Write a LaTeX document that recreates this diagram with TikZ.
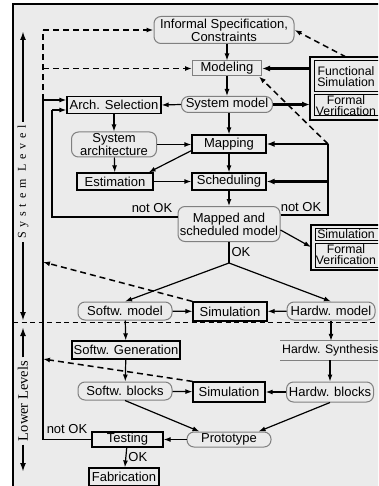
\documentclass[tikz,border=0pt]{standalone}
\usepackage{fontspec}
\setmainfont{Liberation Sans}
\newfontfamily\lvlfont[LetterSpace=40]{Liberation Serif}
\newfontfamily\lowfont{Liberation Serif}
\usetikzlibrary{arrows.meta}
\definecolor{bg}{rgb}{0.92,0.92,0.92}
\definecolor{edgegray}{rgb}{0.5,0.5,0.5}

\tikzset{
  box/.style={draw, line width=1.2pt, inner sep=0pt, minimum height=17pt},
  soft/.style={draw=edgegray, line width=1pt, rounded corners=7pt, inner sep=0pt, align=center},
  vbox/.style={draw, line width=1pt, anchor=west, inner xsep=1pt, inner ysep=0pt, text width=70pt},
  vtext/.style={font=\fontsize{12.3}{11}\selectfont, align=center, inner sep=0pt},
  arr/.style={line width=1.2pt, -{Latex[length=7pt,width=5pt]}},
  bold/.style={line width=2.2pt, -{Latex[length=8pt,width=6pt]}},
  back/.style={line width=1.5pt, dash pattern=on 6pt off 4pt, -{Latex[length=7pt,width=5pt]}},
  lvl/.style={line width=1.8pt, -{Latex[length=9pt,width=6pt]}}
}

\begin{document}
\begin{tikzpicture}[x=1pt, y=-1pt, font=\fontsize{13}{11.5}\selectfont]

\useasboundingbox (0,0) rectangle (378,486);
\clip (0,0) rectangle (378,486);
\fill[bg] (13,4) rectangle (395,495);
\draw[line width=2.5pt] (13,495) -- (13,4) -- (395,4);

% level marks on the left
\node[rotate=90, font=\lvlfont\fontsize{12}{12}\selectfont] (syslvl) at (23,182) {System Level};
\draw[lvl] (syslvl.east) -- (23,31);
\draw[lvl] (syslvl.west) -- (23,321);
\node[rotate=90, font=\lowfont\fontsize{14.5}{14.5}\selectfont] (lowlvl) at (23,401) {Lower Levels};
\draw[lvl] (lowlvl.east) -- (23,327);
\draw[lvl] (lowlvl.west) -- (23,472);
\draw[line width=1pt, dash pattern=on 5pt off 3.5pt] (13,322) -- (395,322);

% system level
\node[soft, minimum width=140pt, minimum height=27pt] (spec) at (224,30) {Informal Specification,\\Constraints};
\node[box, draw=edgegray, line width=1pt, minimum width=69pt, minimum height=15pt] (model) at (227,68.5) {Modeling};
\node[soft, minimum width=91pt, minimum height=16pt] (sysmod) at (227,104.5) {System model};
\node[box, minimum width=94pt] (arch) at (114,105) {Arch. Selection};
\node[soft, minimum width=85pt, minimum height=25pt] (sysarch) at (114,144.5) {System\\architecture};
\node[box, minimum width=74pt, minimum height=18pt] (mapping) at (229,144) {Mapping};
\node[box, minimum width=76pt] (estim) at (115,181.5) {Estimation};
\node[box, minimum width=74pt] (sched) at (229,181.5) {Scheduling};
\node[soft, minimum width=102pt, minimum height=35pt] (mapsched) at (229,224) {Mapped and\\scheduled model};

% verification boxes
\draw[line width=2pt] (310,57) rectangle (395,120);
\node[vbox, minimum height=31pt] (funsim) at (314,76.5) {};
\node[vtext] (funsimtxt) at (346,76.5) {Functional\\Simulation};
\node[vbox, minimum height=21pt] (formver) at (314,105.5) {};
\node[vtext] (formvertxt) at (346,105.5) {Formal\\Verification};
\draw[line width=2pt] (311,225) rectangle (395,270);
\node[vbox, minimum height=12pt] (simbox) at (315,234) {};
\node[vtext] (simboxtxt) at (346,234) {Simulation};
\node[vbox, minimum height=24pt] (formbox) at (315,255) {};
\node[vtext] (formboxtxt) at (346,255) {Formal\\Verification};

% lower levels
\node[soft, minimum width=94pt, minimum height=18pt] (swmod) at (125,311) {Softw. model};
\node[box, minimum width=74pt, minimum height=19pt] (simhi) at (230,311.5) {Simulation};
\node[soft, minimum width=88pt, minimum height=18pt] (hwmod) at (331,311) {Hardw. model};
\node[box, minimum width=108pt, minimum height=18pt] (swgen) at (126,350) {Softw. Generation};
\node[anchor=west, inner xsep=2pt, inner ysep=0pt, minimum height=19pt, font=\fontsize{12.3}{11}\selectfont] (hwsyn) at (280,350.5) {Hardw. Synthesis};
\draw[edgegray, line width=1pt] (hwsyn.north west) -- ++(120,0) (hwsyn.south west) -- ++(120,0);
\node[soft, minimum width=94pt, minimum height=18pt] (swblk) at (125,391) {Softw. blocks};
\node[box, minimum width=72pt, minimum height=20pt] (simlo) at (229,392) {Simulation};
\node[soft, minimum width=87pt, minimum height=20pt] (hwblk) at (330,392) {Hardw. blocks};
\node[soft, minimum width=84pt, minimum height=15pt] (proto) at (229,439.5) {Prototype};
\node[box, minimum width=71pt, minimum height=15pt] (test) at (127.5,439.5) {Testing};
\node[box, minimum width=70pt, minimum height=18pt] (fab) at (124,477) {Fabrication};

\coordinate (dtop) at (43,30);
\coordinate (dmid) at (43,68.5);
\coordinate (oloopt) at (43,100);
\coordinate (oloopb) at (43,439.5);
\coordinate (lloopt) at (52,110);
\coordinate (lloopb) at (52,217);
\coordinate (loopt) at (328,144);
\coordinate (loopm) at (328,181.5);
\coordinate (loopb) at (328,215);
\coordinate (fsleft) at (310,68.5);
\coordinate (fvleft) at (310,104.5);
\coordinate (fstop) at (346,57);
\coordinate (sbleft) at (311,247);
\coordinate (okpt) at (229,263);
\coordinate (rethi) at (43,262);
\coordinate (retlo) at (43,359);

% top part
\draw[line width=1.5pt, dash pattern=on 6pt off 4pt] (oloopt) -- (dtop);
\draw[back] (dtop) -- (spec.west);
\draw[back] (dmid) -- (model.west);
\draw[arr] (spec.south -| model.north) -- (model.north);
\draw[bold] (fsleft) -- (model.east);
\draw[back] (fstop) -- (spec.east);
\draw[arr] (model) -- (sysmod);
\draw[bold] (sysmod.east) -- (fvleft);
\draw[back] (loopt) -- ([xshift=-3pt]model.south east);
\draw[arr] (sysmod.west) -- (arch.east);
\draw[arr] (sysmod.south -| mapping.north) -- (mapping.north);
\draw[arr] (arch) -- (sysarch);
\draw[arr] (sysarch.east) -- (sysarch.east -| mapping.west);
\draw[arr] ([yshift=3pt]mapping.south west) -- ([xshift=-5pt]estim.north east);
\draw[arr] (sysarch) -- (estim);
\draw[arr] (estim) -- (sched);
\draw[arr] (mapping) -- (sched);
\draw[arr] (sched) -- (mapsched);

% not OK loops
\draw[line width=2.2pt] ([yshift=9pt]mapsched.east) -- (loopb) -- (loopt);
\draw[bold] (loopt) -- (mapping.east);
\draw[bold] (loopm) -- (sched.east);
\node (nokr) at (301,207) {not OK};
\draw[line width=1.2pt] ([yshift=7pt]mapsched.west) -- (lloopb) -- (lloopt);
\draw[arr] (lloopt) -- (arch.west |- lloopt);
\node (nokl) at (152,208) {not OK};
\draw[arr] ([yshift=-6pt]mapsched.east) -- (sbleft);

% split
\draw[line width=1.2pt] (mapsched.south) -- (okpt) node[midway, right, inner xsep=2pt] (okhi) {OK};
\draw[arr] (okpt) -- (swmod.north);
\draw[arr] (okpt) -- (hwmod.north);
\draw[arr] (swmod) -- (simhi);
\draw[arr] (hwmod) -- (simhi);
\draw[back] (simhi.north west) -- (rethi);
\draw[arr] (swmod) -- (swgen);
\draw[arr] (hwmod.south) -- (hwmod.south |- hwsyn.north);
\draw[arr] (swgen) -- (swblk);
\draw[arr] (hwblk.north |- hwsyn.south) -- (hwblk.north);
\draw[arr] (swblk) -- (simlo);
\draw[arr] (hwblk) -- (simlo);
\draw[back] (simlo.north west) -- (retlo);
\draw[arr] (swblk.south) -- ([xshift=13pt]proto.north west);
\draw[arr] (hwblk.south) -- ([xshift=-13pt]proto.north east);
\draw[arr] (proto) -- (test);
\draw[line width=1.2pt] (test.west) -- (oloopb) -- (oloopt);
\draw[arr] (oloopt) -- (arch.west |- oloopt);
\node (nokt) at (67,429) {not OK};
\draw[arr] (test) -- (fab) node[midway, right, inner xsep=2pt] (oklo) {OK};

\end{tikzpicture}
\end{document}
